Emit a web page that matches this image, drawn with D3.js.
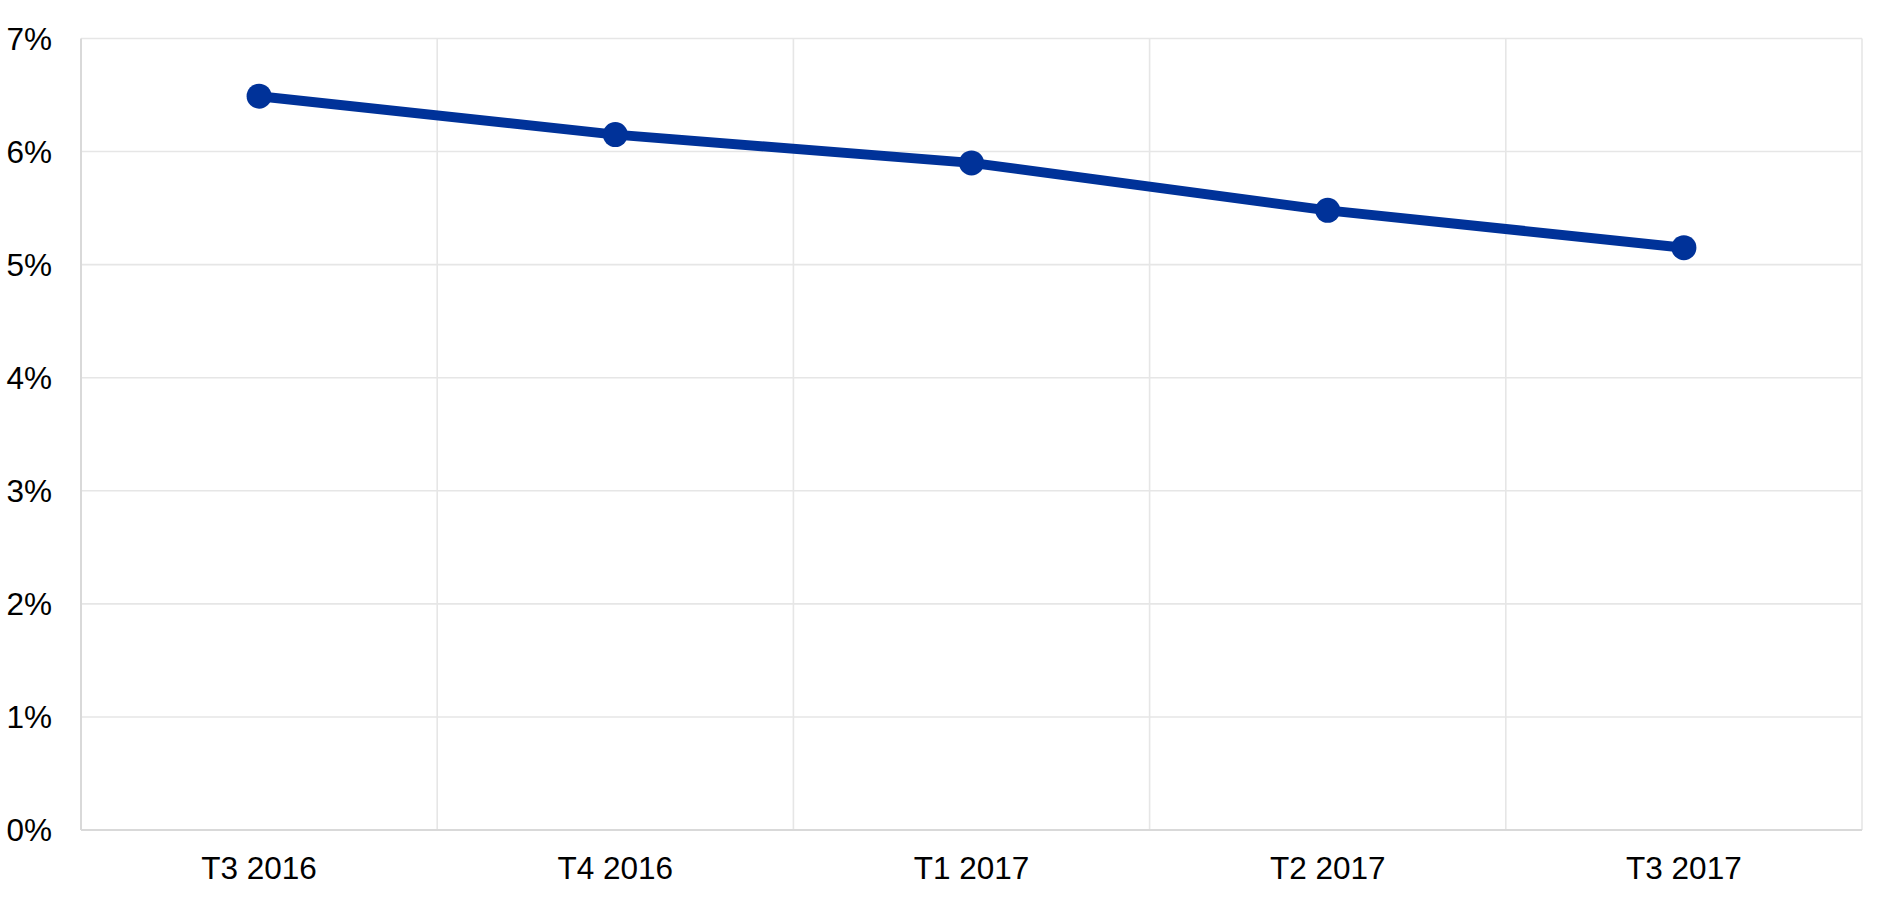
<!DOCTYPE html>
<html>
<head>
<meta charset="utf-8">
<script src="https://cdn.jsdelivr.net/npm/d3@7"></script>
<style>
  html, body { margin: 0; padding: 0; background: #ffffff; }
  svg { display: block; }
  text { font-family: "Liberation Sans", Arial, sans-serif; }
</style>
</head>
<body>
<svg id="chart" width="1890" height="900"></svg>
<script>
const categories = ["T3 2016", "T4 2016", "T1 2017", "T2 2017", "T3 2017"];
const values = [6.49, 6.15, 5.9, 5.48, 5.15];
const yTicks = [0, 1, 2, 3, 4, 5, 6, 7];

const svg = d3.select("#chart");
const pLeft = 81, pRight = 1862, pTop = 38.5, pBottom = 830;

const x = d3.scaleBand().domain(categories).range([pLeft, pRight]).padding(0);
const y = d3.scaleLinear().domain([0, 7]).range([pBottom, pTop]);

// horizontal gridlines
svg.append("g").selectAll("line").data(yTicks.filter(d => d > 0)).join("line")
  .attr("x1", pLeft).attr("x2", pRight)
  .attr("y1", d => y(d)).attr("y2", d => y(d))
  .attr("stroke", "#e6e6e6").attr("stroke-width", 1.6);

// vertical gridlines at band boundaries
const bounds = categories.map(c => x(c) + x.bandwidth());
svg.append("g").selectAll("line").data(bounds).join("line")
  .attr("x1", d => d).attr("x2", d => d)
  .attr("y1", pTop).attr("y2", pBottom)
  .attr("stroke", "#e6e6e6").attr("stroke-width", 1.6);

// axes lines
svg.append("line").attr("x1", pLeft).attr("x2", pLeft).attr("y1", pTop).attr("y2", pBottom)
  .attr("stroke", "#d9d9d9").attr("stroke-width", 2);
svg.append("line").attr("x1", pLeft).attr("x2", pRight).attr("y1", pBottom).attr("y2", pBottom)
  .attr("stroke", "#d9d9d9").attr("stroke-width", 2);

// y labels
svg.append("g").selectAll("text").data(yTicks).join("text")
  .attr("x", 52).attr("y", d => y(d))
  .attr("dy", "0.35em")
  .attr("text-anchor", "end")
  .attr("font-size", 31.5)
  .attr("fill", "#000")
  .text(d => d + "%");

// x labels
svg.append("g").selectAll("text").data(categories).join("text")
  .attr("x", d => x(d) + x.bandwidth() / 2)
  .attr("y", 879)
  .attr("text-anchor", "middle")
  .attr("font-size", 31.5)
  .attr("fill", "#000")
  .text(d => d);

const pts = categories.map((c, i) => ({ c, v: values[i] }));
const line = d3.line().x(d => x(d.c) + x.bandwidth() / 2).y(d => y(d.v));

svg.append("path").datum(pts)
  .attr("d", line)
  .attr("fill", "none")
  .attr("stroke", "#003299")
  .attr("stroke-width", 10)
  .attr("stroke-linejoin", "round");

svg.append("g").selectAll("circle").data(pts).join("circle")
  .attr("cx", d => x(d.c) + x.bandwidth() / 2)
  .attr("cy", d => y(d.v))
  .attr("r", 12.5)
  .attr("fill", "#003299");
</script>
</body>
</html>
